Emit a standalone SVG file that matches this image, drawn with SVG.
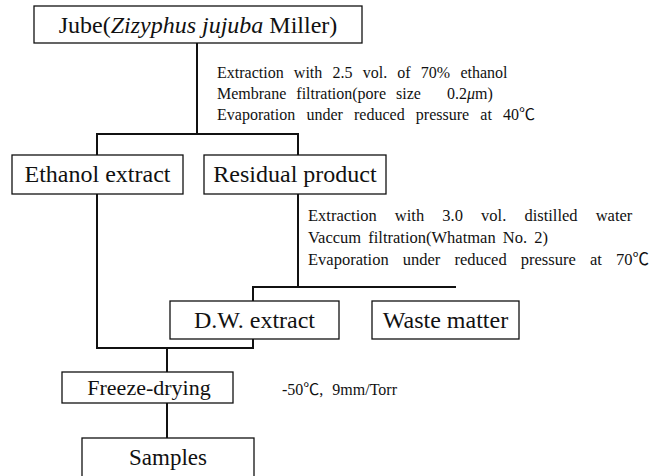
<svg xmlns="http://www.w3.org/2000/svg" width="659" height="476" viewBox="0 0 659 476">
<style>
  .box { fill: #ffffff; stroke: #111111; stroke-width: 1.3; }
  .lbl { font-family: "Liberation Serif", "Times New Roman", serif; font-size: 24px; fill: #111111; text-anchor: middle; }
  .note { font-family: "Liberation Serif", "Times New Roman", "Noto Sans CJK KR", serif; font-size: 16px; fill: #111111; }
  .note2 { font-size: 16.5px; }
  .conn { fill: none; stroke: #111111; stroke-width: 2; }
</style>
<rect width="659" height="476" fill="#ffffff"/>
<g id="connectors">
  <path class="conn" d="M197 43 V134"/>
  <path class="conn" d="M97 155 V134 H298 V155"/>
  <path class="conn" d="M97 194 V348 H253 V339"/>
  <path class="conn" d="M298 194 V287"/>
  <path class="conn" d="M253 301 V287 H456"/>
  <path class="conn" d="M167 348 V372"/>
  <path class="conn" d="M167 403 V438"/>
</g>
<g id="jube">
  <rect class="box" x="34" y="6" width="328" height="37"/>
  <text class="lbl" x="198" y="33">Jube(<tspan font-style="italic">Zizyphus jujuba</tspan> Miller)</text>
</g>
<g id="note1">
  <text class="note" x="217" y="78" word-spacing="6.2">Extraction with 2.5 vol. of 70% ethanol</text>
  <text class="note" x="217" y="99" word-spacing="6">Membrane filtration(pore size <tspan dx="16">0.2</tspan><tspan font-style="italic">μ</tspan>m)</text>
  <text class="note" x="217" y="120" word-spacing="7.2">Evaporation under reduced pressure at 40℃</text>
</g>
<g id="ethanol">
  <rect class="box" x="12" y="155" width="171" height="39"/>
  <text class="lbl" x="97.5" y="182">Ethanol extract</text>
</g>
<g id="residual">
  <rect class="box" x="204" y="155" width="182" height="39"/>
  <text class="lbl" x="295" y="182">Residual product</text>
</g>
<g id="note2">
  <text class="note note2" x="308" y="221" word-spacing="14">Extraction with 3.0 vol. distilled water</text>
  <text class="note note2" x="308" y="243" word-spacing="3">Vaccum filtration(Whatman No. 2)</text>
  <text class="note note2" x="308" y="265" word-spacing="10">Evaporation under reduced pressure at 70℃</text>
</g>
<g id="dw">
  <rect class="box" x="170" y="301" width="169" height="38"/>
  <text class="lbl" x="254.5" y="328">D.W. extract</text>
</g>
<g id="waste">
  <rect class="box" x="372" y="301" width="147" height="38"/>
  <text class="lbl" x="445.5" y="328">Waste matter</text>
</g>
<g id="freeze">
  <rect class="box" x="62" y="372" width="171" height="31"/>
  <text class="lbl" x="149" y="395" style="font-size:22px">Freeze-drying</text>
</g>
<g id="note3">
  <text class="note" x="282" y="395" word-spacing="5">-50℃, 9mm/Torr</text>
</g>
<g id="samples">
  <rect class="box" x="82" y="438" width="172" height="45"/>
  <text class="lbl" x="168" y="465" style="font-size:23px">Samples</text>
</g>
</svg>
